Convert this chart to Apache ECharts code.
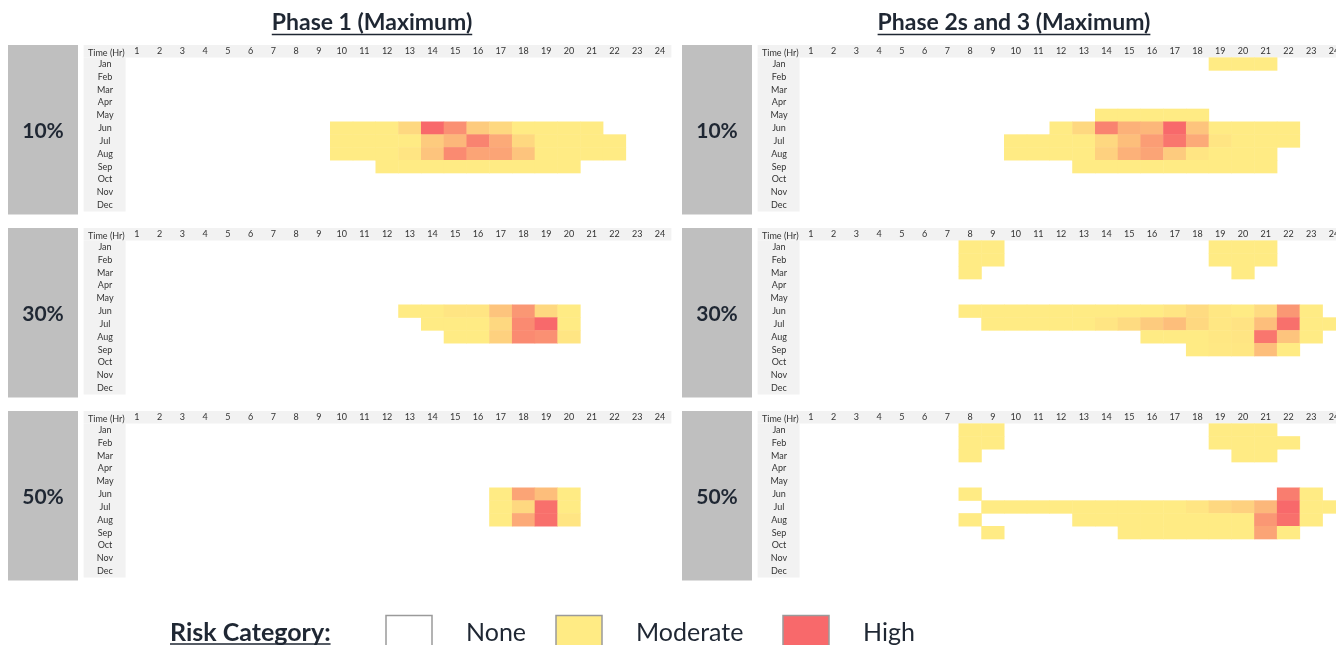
<!DOCTYPE html>
<html><head><meta charset="utf-8">
<script src="https://cdn.jsdelivr.net/npm/echarts@6/dist/echarts.min.js"></script>
<style>html,body{margin:0;padding:0;background:#fff}#c{width:1336px;height:645px}</style>
</head><body><div id="c"></div>
<script>
// ---------- DATA ----------
const hours = ['1','2','3','4','5','6','7','8','9','10','11','12','13','14','15','16','17','18','19','20','21','22','23','24'];
const months = ['Jan','Feb','Mar','Apr','May','Jun','Jul','Aug','Sep','Oct','Nov','Dec'];
const columnTitles = ['Phase 1 (Maximum)', 'Phase 2s and 3 (Maximum)'];
const levelLabels = ['10%', '30%', '50%'];
const axisTitle = 'Time (Hr)';
const legendTitle = 'Risk Category:';
const legendLabels = ['None', 'Moderate', 'High'];

// Risk index per cell: 0 = Moderate (yellow) ... 1 = High (red); cells not listed = None.
// Each row: [month, first hour, values for consecutive hours]
const phase1_10 = [
  ['Jun', 10, [0,0,0,0.15,1,0.7,0.25,0.15,0,0,0,0]],
  ['Jul', 10, [0,0,0,0,0.25,0.4,0.8,0.5,0.15,0,0,0,0]],
  ['Aug', 10, [0,0,0,0.05,0.3,0.75,0.55,0.55,0.3,0,0,0,0]],
  ['Sep', 12, [0,0,0,0,0,0,0,0,0]]
];
const phase23_10 = [
  ['Jan', 19, [0,0,0]],
  ['May', 14, [0,0,0,0,0]],
  ['Jun', 12, [0,0.15,0.8,0.45,0.4,1,0.3,0,0,0,0]],
  ['Jul', 10, [0,0,0,0,0.15,0.35,0.6,0.9,0.5,0.05,0,0,0]],
  ['Aug', 10, [0,0,0,0,0.2,0.45,0.55,0.25,0.05,0,0,0]],
  ['Sep', 13, [0,0,0,0,0,0,0,0,0]]
];
const phase1_30 = [
  ['Jun', 13, [0,0,0.05,0.05,0.3,0.65,0.15,0]],
  ['Jul', 14, [0,0,0,0.15,0.75,1,0]],
  ['Aug', 15, [0,0,0.2,0.75,0.7,0.05]]
];
const phase23_30 = [
  ['Jan', 8, [0,0]], ['Jan', 19, [0,0,0]],
  ['Feb', 8, [0,0]], ['Feb', 19, [0,0,0]],
  ['Mar', 8, [0]], ['Mar', 20, [0]],
  ['Jun', 8, [0,0,0,0,0,0,0,0,0,0.05,0.12,0.03,0,0.12,0.65,0]],
  ['Jul', 9, [0,0,0,0,0,0.05,0.12,0.25,0.35,0.15,0.03,0.06,0.35,0.95,0,0]],
  ['Aug', 16, [0,0,0,0.03,0.05,0.9,0.3,0]],
  ['Sep', 18, [0,0.02,0.03,0.35,0]]
];
const phase1_50 = [
  ['Jun', 17, [0,0.55,0.35,0]],
  ['Jul', 17, [0,0.15,0.95,0]],
  ['Aug', 17, [0,0.5,0.95,0.05]]
];
const phase23_50 = [
  ['Jan', 8, [0,0]], ['Jan', 19, [0,0,0]],
  ['Feb', 8, [0,0]], ['Feb', 19, [0,0,0,0]],
  ['Mar', 8, [0]], ['Mar', 20, [0,0]],
  ['Jun', 8, [0]], ['Jun', 22, [0.85,0]],
  ['Jul', 9, [0,0,0,0,0,0,0,0,0,0.05,0.15,0.2,0.4,1,0,0]],
  ['Aug', 8, [0]], ['Aug', 13, [0,0,0,0,0,0,0,0,0.65,0.95,0]],
  ['Sep', 9, [0]], ['Sep', 15, [0,0,0,0,0,0,0.55,0]]
];
// panels[row][col]
const panels = [[phase1_10, phase23_10], [phase1_30, phase23_30], [phase1_50, phase23_50]];

// ---------- LAYOUT / STYLE ----------
const FONT = 'Lato, "Open Sans", sans-serif';
const TXT = '#1f2733';
const cellW = 22.74, cellH = 12.83;
const gridLefts = [125.6, 799.6];
const gridTops = [57.6, 240.6, 423.6];
const boxLefts = [8, 682];
const colLeftOfLabels = 42;   // width of month label column
const headerH = 12.6;
const LOW = '#FFEB84', HIGH = '#F8696B';

function toCells(rows) {
  const out = [];
  rows.forEach(([m, start, vals]) => {
    const mi = months.indexOf(m);
    vals.forEach((v, i) => out.push([start - 1 + i, mi, v]));
  });
  return out;
}
function textW(font, s) {
  const ctx = document.createElement('canvas').getContext('2d');
  ctx.font = font; return ctx.measureText(s).width;
}

const grids = [], xAxes = [], yAxes = [], series = [], graphics = [];
let k = 0;
for (let r = 0; r < 3; r++) {
  for (let c = 0; c < 2; c++) {
    const left = gridLefts[c], top = gridTops[r];
    const w = 24 * cellW, h = 12 * cellH;
    grids.push({ left: left, top: top, width: w, height: h, containLabel: false, outerBoundsMode: 'none' });
    xAxes.push({
      gridIndex: k, type: 'category', data: hours, position: 'top',
      axisLine: { show: false }, axisTick: { show: false }, splitLine: { show: false },
      axisLabel: { interval: 0, fontSize: 9, color: '#333', margin: 2, fontFamily: FONT },
      name: axisTitle, nameLocation: 'start', nameGap: 1,
      nameTextStyle: { fontSize: 9, color: '#333', fontFamily: FONT, verticalAlign: 'bottom', padding: [0, 0, 0, 0] }
    });
    yAxes.push({
      gridIndex: k, type: 'category', data: months, inverse: true,
      axisLine: { show: false }, axisTick: { show: false }, splitLine: { show: false },
      axisLabel: { interval: 0, fontSize: 9, color: '#333', align: 'center', margin: 20.6, fontFamily: FONT }
    });
    series.push({
      type: 'heatmap', xAxisIndex: k, yAxisIndex: k, data: toCells(panels[r][c]),
      itemStyle: { borderWidth: 0 }, emphasis: { disabled: true }, progressive: 0, animation: false
    });
    // decorations: gray level box, header band, month column
    const boxTop = top - headerH;
    graphics.push({ type: 'rect', z: -10, shape: { x: boxLefts[c], y: boxTop, width: 70, height: h + headerH + 3 }, style: { fill: '#BFBFBF' } });
    graphics.push({ type: 'text', z: 5, style: { text: levelLabels[r], x: boxLefts[c] + 35, y: boxTop + (h + headerH + 3) / 2 + 1, textAlign: 'center', textVerticalAlign: 'middle', font: 'bold 21px ' + FONT, fill: TXT } });
    graphics.push({ type: 'rect', z: -10, shape: { x: left - colLeftOfLabels, y: boxTop, width: colLeftOfLabels + w, height: headerH }, style: { fill: '#F2F2F2' } });
    graphics.push({ type: 'rect', z: -10, shape: { x: left - colLeftOfLabels, y: top, width: colLeftOfLabels, height: h }, style: { fill: '#F2F2F2' } });
    k++;
  }
}

// column titles (underlined)
const titleFont = 'bold 23px ' + FONT;
[372, 1014].forEach((cx, i) => {
  const tw = textW(titleFont, columnTitles[i]);
  graphics.push({ type: 'text', style: { text: columnTitles[i], x: cx, y: 22.5, textAlign: 'center', textVerticalAlign: 'middle', font: titleFont, fill: TXT } });
  graphics.push({ type: 'line', shape: { x1: cx - tw / 2, y1: 34.5, x2: cx + tw / 2, y2: 34.5 }, style: { stroke: TXT, lineWidth: 1.5 } });
});

// legend
const legFontB = 'bold 25px ' + FONT, legFont = '25px ' + FONT;
const lw = textW(legFontB, legendTitle);
graphics.push({ type: 'text', style: { text: legendTitle, x: 170, y: 632.5, textAlign: 'left', textVerticalAlign: 'middle', font: legFontB, fill: TXT } });
graphics.push({ type: 'line', shape: { x1: 170, y1: 644, x2: 170 + lw, y2: 644 }, style: { stroke: TXT, lineWidth: 1.5 } });
const legFills = ['#FFFFFF', LOW, HIGH];
const legBoxX = [386, 556, 783];
legendLabels.forEach((lab, i) => {
  graphics.push({ type: 'rect', shape: { x: legBoxX[i], y: 615.5, width: 46, height: 36 }, style: { fill: legFills[i], stroke: '#9a9a9a', lineWidth: 1.5 } });
  graphics.push({ type: 'text', style: { text: lab, x: legBoxX[i] + 80, y: 632.5, textAlign: 'left', textVerticalAlign: 'middle', font: legFont, fill: TXT } });
});

const chart = echarts.init(document.getElementById('c'), null, { renderer: 'canvas' });
chart.setOption({
  animation: false,
  backgroundColor: '#fff',
  textStyle: { fontFamily: FONT },
  grid: grids, xAxis: xAxes, yAxis: yAxes, series: series,
  visualMap: {
    type: 'continuous', show: false, min: 0, max: 1, dimension: 2,
    seriesIndex: [0, 1, 2, 3, 4, 5], inRange: { color: [LOW, HIGH] }
  },
  graphic: { elements: graphics }
});
</script>
</body></html>
